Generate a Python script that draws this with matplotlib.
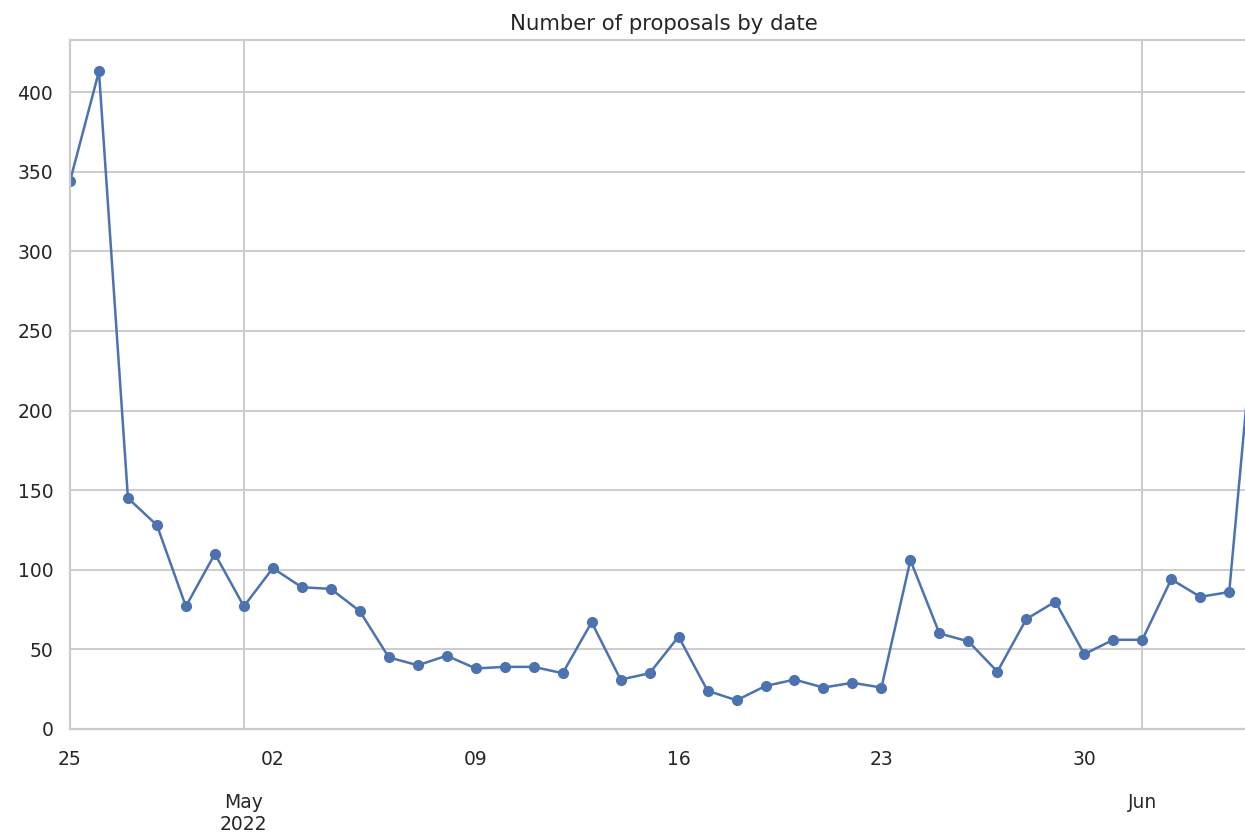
import matplotlib
matplotlib.use("Agg")
from matplotlib import pyplot as plt
import matplotlib.dates as mdates
from matplotlib.ticker import FuncFormatter, NullLocator
import pandas as pd

start_date = "2022-04-25"
proposals = [344, 413, 145, 128, 77, 110, 77, 101, 89, 88, 74, 45, 40, 46,
             38, 39, 39, 35, 67, 31, 35, 58, 24, 18, 27, 31, 26, 29, 26, 106,
             60, 55, 36, 69, 80, 47, 56, 56, 94, 83, 86, 285]
dates = pd.date_range(start_date, periods=len(proposals), freq="D")

plt.rcParams.update({
    "font.family": "DejaVu Sans",
    "text.color": "#262626",
    "xtick.color": "#262626",
    "ytick.color": "#262626",
})

fig = plt.figure(figsize=(12.45, 8.33), dpi=100)
ax = fig.add_axes([0.0562, 0.1249, 0.9544, 0.8271])

ax.plot(dates, proposals, color="#4c72b0", marker="o", markersize=7, linewidth=1.8)

ax.set_xlim(dates[0], dates[-1])
ax.set_ylim(bottom=0)

ax.xaxis.set_major_locator(mdates.MonthLocator())
ax.xaxis.set_minor_locator(mdates.WeekdayLocator(byweekday=mdates.MO))
ax.xaxis.set_minor_formatter(mdates.DateFormatter("%d"))


def month_label(x, pos):
    d = mdates.num2date(x)
    if pos == 0:
        return d.strftime("%b") + "\n" + d.strftime("%Y")
    return d.strftime("%b")


ax.xaxis.set_major_formatter(FuncFormatter(month_label))
ax.yaxis.set_minor_locator(NullLocator())

ax.tick_params(axis="both", which="both", length=0, labelsize=13.5)
ax.tick_params(axis="x", which="minor", pad=15)
ax.tick_params(axis="x", which="major", pad=46)
ax.tick_params(axis="y", pad=12)

ax.grid(True, which="major", color="#cccccc", linewidth=1.4)
ax.set_axisbelow(True)
for s in ax.spines.values():
    s.set_color("#cccccc")
    s.set_linewidth(1.6)
ax.set_facecolor("white")

ax.set_title("Number of proposals by date", fontsize=15.3, pad=7)

fig.savefig("out.png", dpi=100)
